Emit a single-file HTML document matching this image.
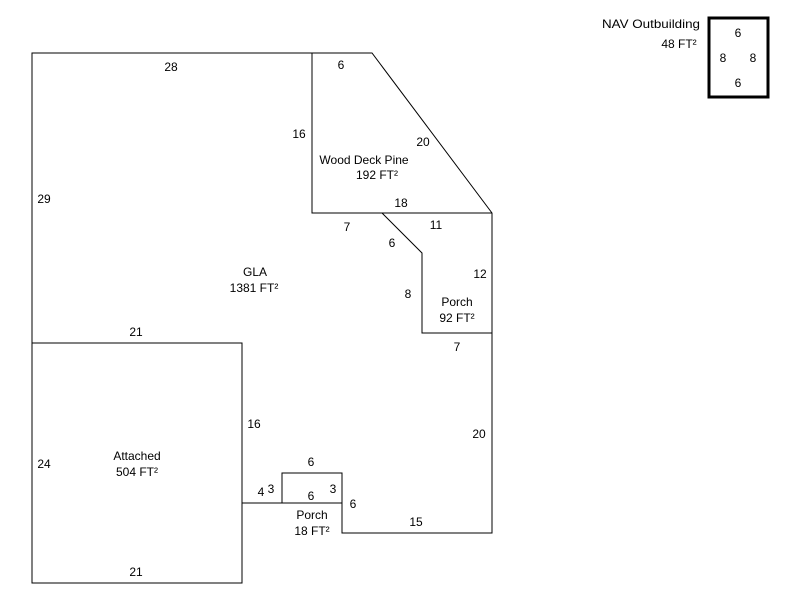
<!DOCTYPE html>
<html><head><style>
html,body{margin:0;padding:0;background:#fff;}
svg text{font-family:"Liberation Sans",Arial,sans-serif;font-size:12px;fill:#000;}
</style></head><body>
<svg width="800" height="600" xmlns="http://www.w3.org/2000/svg">
<g fill="none" stroke="#000" stroke-width="1">
<polyline points="32,343 32,53 372,53 492,213 492,533 342,533 342,503"/>
<line x1="242" y1="503" x2="282" y2="503"/>
<rect x="32" y="343" width="210" height="240"/>
<rect x="282" y="473" width="60" height="30"/>
<polyline points="312,53 312,213 492,213"/>
<polyline points="382,213 422,253 422,333 492,333"/>
<rect x="709" y="18" width="59" height="79" stroke-width="3"/>
</g>
<g text-anchor="middle">
<text x="171" y="71">28</text>
<text x="341" y="69">6</text>
<text x="299" y="138">16</text>
<text x="423" y="146">20</text>
<text x="364" y="164">Wood Deck Pine</text>
<text x="377" y="179">192 FT²</text>
<text x="44" y="203">29</text>
<text x="401" y="207">18</text>
<text x="347" y="231">7</text>
<text x="436" y="229">11</text>
<text x="392" y="247">6</text>
<text x="480" y="278">12</text>
<text x="255" y="276">GLA</text>
<text x="254" y="292">1381 FT²</text>
<text x="408" y="298">8</text>
<text x="457" y="306">Porch</text>
<text x="457" y="322">92 FT²</text>
<text x="136" y="336">21</text>
<text x="457" y="351">7</text>
<text x="254" y="428">16</text>
<text x="479" y="438">20</text>
<text x="137" y="460">Attached</text>
<text x="137" y="476">504 FT²</text>
<text x="44" y="468">24</text>
<text x="311" y="466">6</text>
<text x="261" y="496">4</text>
<text x="271" y="493">3</text>
<text x="311" y="500">6</text>
<text x="333" y="493">3</text>
<text x="353" y="508">6</text>
<text x="312" y="519">Porch</text>
<text x="312" y="535">18 FT²</text>
<text x="416" y="526">15</text>
<text x="136" y="576">21</text>
<text x="651" y="28" textLength="98" lengthAdjust="spacingAndGlyphs">NAV Outbuilding</text>
<text x="679" y="48">48 FT²</text>
<text x="738" y="37">6</text>
<text x="723" y="62">8</text>
<text x="753" y="62">8</text>
<text x="738" y="87">6</text>
</g>
</svg>
</body></html>
